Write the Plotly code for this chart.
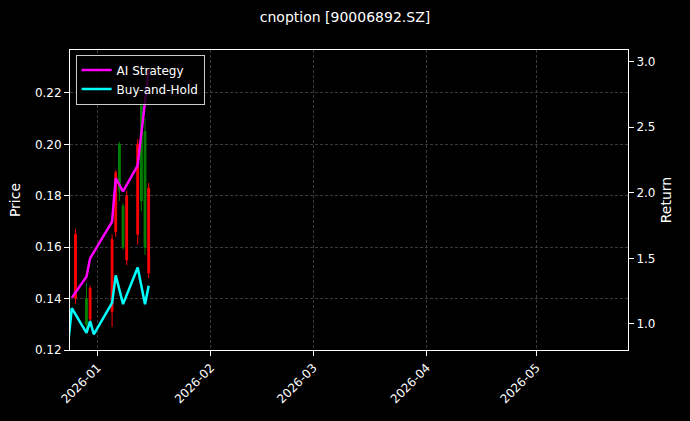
import plotly.graph_objects as go

c_dates = ["2025-12-26","2025-12-29","2025-12-30","2026-01-05","2026-01-06","2026-01-07",
           "2026-01-08","2026-01-09","2026-01-12","2026-01-13","2026-01-14","2026-01-15"]
c_open  = [0.165,0.130,0.144,0.163,0.189,0.182,0.160,0.180,0.200,0.178,0.160,0.183]
c_high  = [0.167,0.146,0.145,0.165,0.190,0.201,0.177,0.182,0.202,0.218,0.210,0.185]
c_low   = [0.138,0.127,0.130,0.129,0.164,0.178,0.159,0.153,0.161,0.174,0.157,0.148]
c_close = [0.140,0.140,0.132,0.135,0.166,0.200,0.176,0.155,0.165,0.215,0.205,0.150]

ai_dates = ["2025-12-25","2025-12-29","2025-12-30","2026-01-05","2026-01-06","2026-01-08","2026-01-12","2026-01-15"]
ai_ret   = [1.20,1.36,1.50,1.78,2.11,2.01,2.21,2.94]
bh_dates = ["2025-12-24","2025-12-25","2025-12-29","2025-12-30","2025-12-31","2026-01-05","2026-01-06",
            "2026-01-08","2026-01-12","2026-01-14","2026-01-15"]
bh_ret   = [0.85,1.12,0.93,1.02,0.92,1.16,1.37,1.15,1.43,1.15,1.29]

fig = go.Figure()
fig.add_trace(go.Candlestick(x=c_dates, open=c_open, high=c_high, low=c_low, close=c_close,
    increasing=dict(line=dict(color="green", width=1), fillcolor="green"),
    decreasing=dict(line=dict(color="red", width=1), fillcolor="red"),
    whiskerwidth=0, showlegend=False))
fig.add_trace(go.Scatter(x=ai_dates, y=ai_ret, yaxis="y2", mode="lines", name="AI Strategy",
    line=dict(color="#ff00ff", width=2.5)))
fig.add_trace(go.Scatter(x=bh_dates, y=bh_ret, yaxis="y2", mode="lines", name="Buy-and-Hold",
    line=dict(color="#00ffff", width=2.5)))

grid = dict(showgrid=True, gridcolor="#3a3a3a", griddash="3px,2px", gridwidth=0.5)
fig.update_layout(
    width=690, height=421, paper_bgcolor="black", plot_bgcolor="black",
    font=dict(family="DejaVu Sans", color="white", size=12),
    title=dict(text="cnoption [90006892.SZ]", x=0.5, xanchor="center", y=0.97, font=dict(size=14)),
    margin=dict(l=70, r=62, t=50, b=71),
    xaxis=dict(type="date", range=["2025-12-24 12:00","2026-05-26"], rangeslider=dict(visible=False),
               tickformat="%Y-%m", dtick="M1", tick0="2026-01-01", tickangle=-45,
               showline=True, linecolor="white", mirror=True, ticks="outside", tickcolor="white", **grid),
    yaxis=dict(title=dict(text="Price", standoff=10), range=[0.12, 0.2367], dtick=0.02, tickformat=".2f",
               showline=True, linecolor="white", mirror=True, ticks="outside", tickcolor="white", **grid),
    yaxis2=dict(title=dict(text="Return", standoff=6), overlaying="y", side="right", range=[0.80, 3.09],
                dtick=0.5, tickformat=".1f", showgrid=False, ticks="outside", tickcolor="white", zeroline=False),
    legend=dict(x=0.01, y=0.985, xanchor="left", yanchor="top", bgcolor="rgba(0,0,0,0.8)",
                bordercolor="#ccc", borderwidth=1, font=dict(size=12)),
)
fig.write_html("out.html", config={"displayModeBar": False},
               post_script="document.body.style.margin='0';document.body.style.background='black';")
